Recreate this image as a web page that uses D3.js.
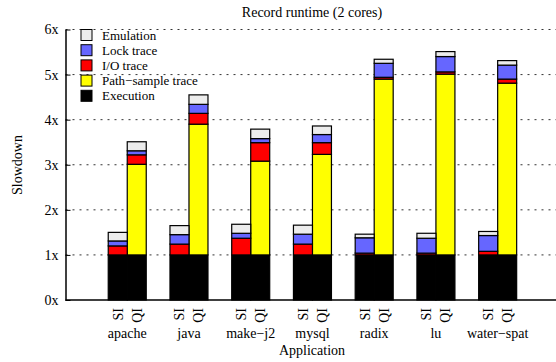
<!DOCTYPE html>
<html>
<head>
<meta charset="utf-8">
<script src="https://cdn.jsdelivr.net/npm/d3@7"></script>
<style>
  body { margin: 0; background: #fff; }
  svg { font-family: "Liberation Serif", "Times New Roman", serif; }
</style>
</head>
<body>
<svg id="chart" width="556" height="362"></svg>
<script>
const apps = ["apache", "java", "make\u2212j2", "mysql", "radix", "lu", "water\u2212spat"];
const modes = ["SI", "QI"];
const yTicks = [0, 1, 2, 3, 4, 5, 6];

// per-app values (slowdown factors)
const execution = [1, 1, 1, 1, 1, 1, 1];
const siIO = [0.20, 0.24, 0.37, 0.24, 0.04, 0.04, 0.08];
const siLock = [0.11, 0.21, 0.11, 0.22, 0.34, 0.33, 0.35];
const siEmul = [0.19, 0.20, 0.20, 0.20, 0.08, 0.11, 0.09];
const qiPath = [2.01, 2.90, 2.08, 2.23, 3.90, 4.01, 3.81];
const qiIO = [0.21, 0.24, 0.41, 0.26, 0.04, 0.05, 0.09];
const qiLock = [0.09, 0.20, 0.09, 0.18, 0.31, 0.34, 0.31];
const qiEmul = [0.20, 0.21, 0.21, 0.19, 0.09, 0.11, 0.10];

const keys = ["Execution", "Path\u2212sample trace", "I/O trace", "Lock trace", "Emulation"];
const colors = {
  "Execution": "#000000",
  "Path\u2212sample trace": "#ffff00",
  "I/O trace": "#ff0000",
  "Lock trace": "#6666ff",
  "Emulation": "#ececec",
};

// one row per bar
const rows = [];
apps.forEach((app, i) => {
  rows.push({ app, i, mode: "SI",
    "Execution": execution[i], "Path\u2212sample trace": 0,
    "I/O trace": siIO[i], "Lock trace": siLock[i], "Emulation": siEmul[i] });
  rows.push({ app, i, mode: "QI",
    "Execution": execution[i], "Path\u2212sample trace": qiPath[i],
    "I/O trace": qiIO[i], "Lock trace": qiLock[i], "Emulation": qiEmul[i] });
});

const svg = d3.select("#chart");
const plotLeft = 65.5, plotBottom = 300, plotTop = 29.5;

const x = d3.scaleLinear().domain([-1, apps.length]).range([plotLeft, 559.4]);
const barW = 19;
const xSub = d3.scaleBand().domain(modes).range([-barW, barW]);
const y = d3.scaleLinear().domain([0, 6]).range([plotBottom, plotTop]);

// dotted grid
svg.append("g")
  .selectAll("line")
  .data(yTicks.filter(d => d > 0))
  .join("line")
  .attr("x1", plotLeft).attr("x2", 556)
  .attr("y1", d => y(d)).attr("y2", d => y(d))
  .attr("stroke", "#333")
  .attr("stroke-width", 1)
  .attr("stroke-dasharray", "2,5");

// stacked bars
const stacked = d3.stack().keys(keys)(rows);
svg.append("g")
  .selectAll("g")
  .data(stacked)
  .join("g")
  .attr("fill", d => colors[d.key])
  .selectAll("rect")
  .data(d => d.filter(s => s[1] - s[0] > 0))
  .join("rect")
  .attr("x", d => x(d.data.i) + xSub(d.data.mode))
  .attr("width", barW)
  .attr("y", d => y(d[1]))
  .attr("height", d => y(d[0]) - y(d[1]))
  .attr("stroke", "#000")
  .attr("stroke-width", 1.2);

// axes
const yAxis = d3.axisLeft(y)
  .tickValues(yTicks)
  .tickFormat(d => d + "x")
  .tickSizeInner(-5)
  .tickSizeOuter(0)
  .tickPadding(7);
const gy = svg.append("g").attr("transform", `translate(${plotLeft},0)`).call(yAxis);
gy.select(".domain").attr("stroke-width", 1.5);
gy.selectAll("text").attr("font-size", 14).attr("font-family", "Liberation Serif");

svg.append("line")
  .attr("x1", plotLeft).attr("x2", 556)
  .attr("y1", plotBottom).attr("y2", plotBottom)
  .attr("stroke", "#000").attr("stroke-width", 1.5);

// SI / QI labels
svg.append("g")
  .selectAll("text")
  .data(rows)
  .join("text")
  .attr("transform", d => `translate(${x(d.i) + xSub(d.mode) + barW / 2 + 5},${plotBottom + 8}) rotate(-90)`)
  .attr("text-anchor", "end")
  .attr("font-size", 14)
  .text(d => d.mode);

// app names
svg.append("g")
  .selectAll("text")
  .data(apps)
  .join("text")
  .attr("x", (d, i) => x(i))
  .attr("y", 338)
  .attr("text-anchor", "middle")
  .attr("font-size", 14)
  .text(d => d);

// titles
svg.append("text")
  .attr("x", 312).attr("y", 17)
  .attr("text-anchor", "middle")
  .attr("font-size", 14)
  .text("Record runtime (2 cores)");

svg.append("text")
  .attr("x", 312).attr("y", 355)
  .attr("text-anchor", "middle")
  .attr("font-size", 14)
  .text("Application");

svg.append("text")
  .attr("transform", "translate(22,165) rotate(-90)")
  .attr("text-anchor", "middle")
  .attr("font-size", 14)
  .text("Slowdown");

// legend (top entry first)
const legend = svg.append("g")
  .selectAll("g")
  .data(keys.slice().reverse())
  .join("g")
  .attr("transform", (d, i) => `translate(81,${29.5 + i * 15.2})`);
legend.append("rect")
  .attr("width", 11).attr("height", 11)
  .attr("fill", d => colors[d])
  .attr("stroke", "#000").attr("stroke-width", 1);
legend.append("text")
  .attr("x", 21).attr("y", 10)
  .attr("font-size", 13)
  .text(d => d);
</script>
</body>
</html>
